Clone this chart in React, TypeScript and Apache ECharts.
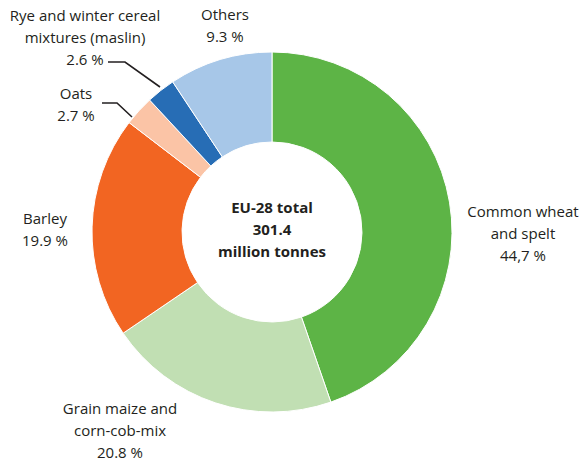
import React, { useEffect, useRef } from "react";
import * as echarts from "echarts";

const categories = [
  "Common wheat\nand spelt",
  "Grain maize and\ncorn-cob-mix",
  "Barley",
  "Oats",
  "Rye and winter cereal\nmixtures (maslin)",
  "Others",
];
const shares = [44.7, 20.8, 19.9, 2.7, 2.6, 9.3];
const shareLabels = ["44,7 %", "20.8 %", "19.9 %", "2.7 %", "2.6 %", "9.3 %"];
const colors = ["#5db446", "#c1dfb3", "#f26522", "#fbc4a6", "#276db5", "#a7c7e8"];
const centerLines = ["EU-28 total", "301.4", "million tonnes"];

// label anchor positions (center of text block)
const labelPos: [number, number][] = [
  [523, 233],
  [120, 430],
  [45, 229],
  [76, 104],
  [85, 37],
  [225, 25],
];

export default function App() {
  const ref = useRef<HTMLDivElement>(null);
  useEffect(() => {
    if (!ref.current) return;
    const chart = echarts.init(ref.current, null, { renderer: "svg" });
    const font = "'Open Sans', sans-serif";
    chart.setOption({
      animation: false,
      backgroundColor: "#ffffff",
      series: [
        {
          type: "pie",
          center: [272, 232],
          radius: [90, 180],
          startAngle: 90,
          clockwise: true,
          avoidLabelOverlap: false,
          itemStyle: { borderColor: "#ffffff", borderWidth: 1 },
          label: {
            show: true,
            position: "outside",
            color: "#231f20",
            fontFamily: font,
            fontSize: 15,
            lineHeight: 22,
            align: "center",
            formatter: (p: any) => `${categories[p.dataIndex]}\n${shareLabels[p.dataIndex]}`,
          },
          labelLine: { show: false },
          labelLayout: (p: any) => ({
            x: labelPos[p.dataIndex][0],
            y: labelPos[p.dataIndex][1],
            align: "center",
            verticalAlign: "middle",
          }),
          emphasis: { disabled: true },
          data: shares.map((v, i) => ({
            name: categories[i],
            value: v,
            itemStyle: { color: colors[i] },
          })),
        },
      ],
      graphic: [
        {
          type: "text",
          x: 272,
          y: 196,
          style: {
            text: centerLines.join("\n"),
            align: "center",
            verticalAlign: "top",
            font: `bold 15px ${font}`,
            lineHeight: 22,
            fill: "#231f20",
          },
        },
        {
          type: "polyline",
          shape: { points: [[108, 62], [125, 62], [160, 87]] },
          style: { stroke: "#231f20", lineWidth: 1.6, fill: "none" },
        },
        {
          type: "polyline",
          shape: { points: [[102, 103], [117, 103], [132, 117]] },
          style: { stroke: "#231f20", lineWidth: 1.6, fill: "none" },
        },
      ],
    });
    return () => chart.dispose();
  }, []);
  return (
    <div
      ref={ref}
      style={{ position: "fixed", left: 0, top: 0, width: 581, height: 464 }}
    />
  );
}
